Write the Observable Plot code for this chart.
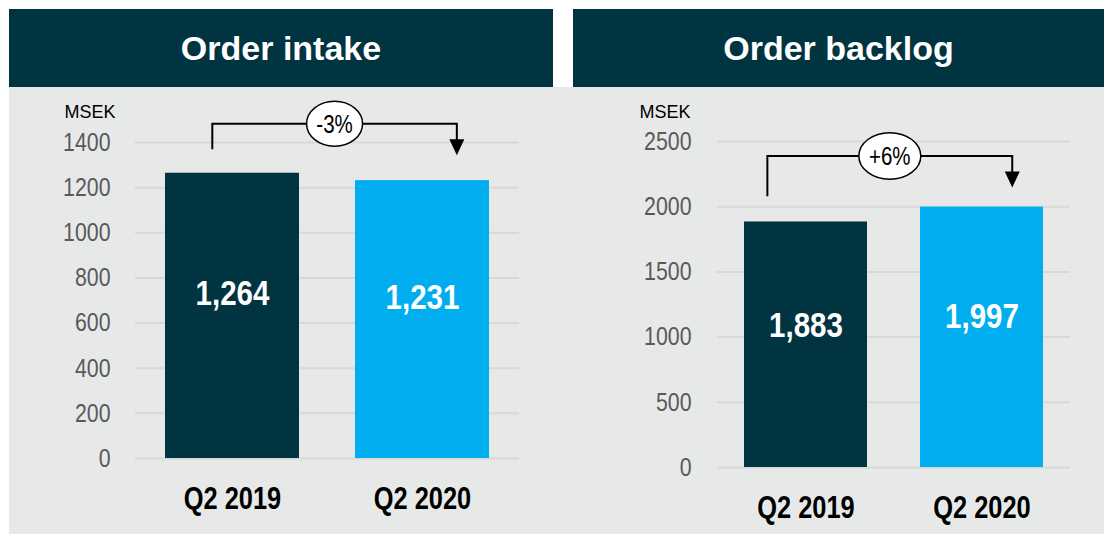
<!DOCTYPE html>
<html><head><meta charset="utf-8">
<script src="https://cdn.jsdelivr.net/npm/d3@7"></script>
<script src="https://cdn.jsdelivr.net/npm/@observablehq/plot@0.6"></script>
<style>
body{margin:0;background:#fff;}
#root{position:relative;width:1104px;height:534px;overflow:hidden;font-family:"Liberation Sans",Arial,sans-serif;}
.bg{position:absolute;left:9px;top:87px;width:1095px;height:447px;background:#e7e9e8;}
.hdr{position:absolute;top:9px;height:78px;background:#003440;color:#fff;font-weight:bold;font-size:34px;display:flex;align-items:center;justify-content:center;}
.chart{position:absolute;top:87px;}
</style></head><body>
<div id="root">
  <div class="bg"></div>
  <div class="hdr" style="left:9px;width:544px">Order intake</div>
  <div class="hdr" style="left:573px;width:531px">Order backlog</div>
  <div class="chart" id="c1" style="left:9px"></div>
  <div class="chart" id="c2" style="left:563px"></div>
</div>
<script>
// ---- data ----
const periods = ["Q2 2019", "Q2 2020"];
const orderIntake = [1264, 1231];
const orderBacklog = [1883, 1997];
const intakeTicks = [0, 200, 400, 600, 800, 1000, 1200, 1400];
const backlogTicks = [0, 500, 1000, 1500, 2000, 2500];
const changeLabels = ["-3%", "+6%"];
const unitLabel = "MSEK";
const barColors = ["#003440", "#00aeef"];

// "narrow" text: Liberation Sans condensed horizontally afterwards (Arial Narrow look)
const NARROW = "Liberation Sans, Arial, sans-serif";
const REG = '"Liberation Sans", Arial, sans-serif';
const SQUEEZE = 0.82;

function chart(cfg) {
  const data = periods.map((p, i) => ({period: p, value: cfg.values[i], color: barColors[i]}));
  const b = cfg.bracket;
  return Plot.plot({
    width: cfg.width, height: cfg.height,
    marginLeft: cfg.ml, marginRight: cfg.mr, marginTop: cfg.mt, marginBottom: cfg.mb,
    style: {background: "transparent", overflow: "visible"},
    x: {domain: periods, paddingInner: cfg.pi, paddingOuter: cfg.po},
    y: {domain: [0, cfg.ticks[cfg.ticks.length - 1]]},
    color: {type: "identity"},
    marks: [
      Plot.gridY(cfg.ticks, {stroke: "#d7d9d9", strokeOpacity: 1, strokeWidth: 2}),
      Plot.barY(data, {x: "period", y: "value", fill: "color"}),
      Plot.text(data, {x: "period", y: d => d.value * 0.58, text: d => d3.format(",")(d.value),
        fill: "white", fontSize: 36, fontWeight: "bold", fontFamily: NARROW}),
      Plot.axisY(cfg.ticks, {tickSize: 0, tickPadding: cfg.tp, fontSize: 26, color: "#595959",
        fontFamily: NARROW, label: null, tickFormat: d => String(d)}),
      Plot.axisX({tickSize: 0, tickPadding: 28, fontSize: 31, fontWeight: "bold", color: "#000",
        fontFamily: NARROW, label: null}),
      Plot.text([unitLabel], {frameAnchor: "top-left", lineAnchor: "middle", text: d => d, textAnchor: "end",
        dx: cfg.udx, dy: cfg.udy, fontSize: 18, fill: "#000", fontFamily: REG}),
      (index, scales) => {
        const x = scales.x, y = scales.y;
        const bw = typeof x.bandwidth === "function" ? x.bandwidth() : x.bandwidth;
        const x1 = x(periods[0]) + bw * b.f1, x2 = x(periods[1]) + bw * b.f2;
        const yS = y(b.start), yT = y(b.top), yP = y(b.tip);
        const g = d3.create("svg:g");
        g.append("path").attr("d", `M${x1},${yS}V${yT}H${x2}V${yP - 15}`)
          .attr("fill", "none").attr("stroke", "#000").attr("stroke-width", 2);
        g.append("path").attr("d", `M${x2 - 7.5},${yP - 16}L${x2 + 7.5},${yP - 16}L${x2},${yP}Z`).attr("fill", "#000");
        const cx = (x1 + x2) / 2;
        g.append("ellipse").attr("cx", cx).attr("cy", yT).attr("rx", b.rx).attr("ry", b.ry)
          .attr("fill", "#fff").attr("stroke", "#000").attr("stroke-width", 1.5);
        g.append("text").attr("x", cx).attr("y", yT).attr("dy", "0.36em").attr("text-anchor", "middle")
          .attr("font-size", 25).attr("font-family", NARROW).attr("fill", "#000").text(b.label);
        return g.node();
      }
    ]
  });
}

function condense(svg) {
  const texts = new Set();
  svg.querySelectorAll("[font-family]").forEach(e => {
    if (e.getAttribute("font-family") !== NARROW) return;
    if (e.tagName === "text") texts.add(e);
    e.querySelectorAll("text").forEach(t => texts.add(t));
  });
  texts.forEach(t => {
    const r = t.getBoundingClientRect();
    const anchor = getComputedStyle(t).textAnchor;
    const ax = anchor === "end" ? r.right : anchor === "middle" ? (r.left + r.right) / 2 : r.left;
    const parent = t.parentNode;
    const inv = parent.getScreenCTM().inverse();
    const p = new DOMPoint(ax, r.top).matrixTransform(inv);
    const g = document.createElementNS("http://www.w3.org/2000/svg", "g");
    g.setAttribute("transform", `translate(${p.x},0) scale(${SQUEEZE},1) translate(${-p.x},0)`);
    parent.insertBefore(g, t);
    g.appendChild(t);
  });
}

const s1 = chart({
  values: orderIntake, ticks: intakeTicks, width: 544, height: 447,
  ml: 126, mr: 34, mt: 55, mb: 76, pi: 0.293, po: 0.152, tp: 25,
  udx: -20, udy: -30.5,
  bracket: {f1: 0.353, f2: 0.76, start: 1368, top: 1481, tip: 1341, rx: 28, ry: 22.5, label: changeLabels[0]}
});
document.getElementById("c1").append(s1);
const s2 = chart({
  values: orderBacklog, ticks: backlogTicks, width: 541, height: 447,
  ml: 154, mr: 34, mt: 54, mb: 67, pi: 0.302, po: 0.149, tp: 26,
  udx: -27, udy: -29.5,
  bracket: {f1: 0.19, f2: 0.75, start: 2076, top: 2385, tip: 2143, rx: 31, ry: 23.3, label: changeLabels[1]}
});
document.getElementById("c2").append(s2);
condense(s1);
condense(s2);
</script>
</body></html>
